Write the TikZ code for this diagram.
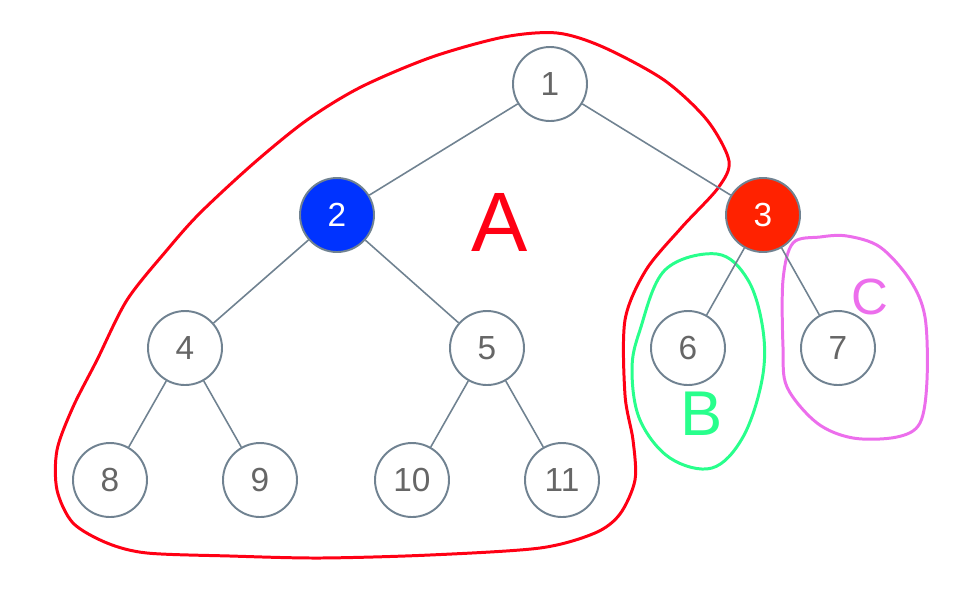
\documentclass[tikz,border=0pt]{standalone}
\usepackage{fontspec}
\setmainfont{Liberation Sans}
\usepackage{tikz}
\usetikzlibrary{positioning}
\definecolor{edgecolor}{RGB}{112,130,145}
\definecolor{numcolor}{RGB}{102,102,102}
\definecolor{bluecolor}{RGB}{0,51,255}
\definecolor{redcolor}{RGB}{255,34,0}
\definecolor{inkred}{RGB}{255,0,20}
\definecolor{inkgreen}{RGB}{40,255,140}
\definecolor{inkpink}{RGB}{236,110,236}
\tikzset{
  treenode/.style={circle, draw=edgecolor, line width=1.1pt, fill=white,
                   minimum size=1.48cm, inner sep=0pt, text=numcolor,
                   font=\fontsize{19}{19}\selectfont},
  marked/.style={treenode, fill=#1, text=white},
  treeedge/.style={draw=edgecolor, line width=0.9pt},
  ink/.style={draw=#1, line width=1.7pt, line join=round, line cap=round},
  inklabel/.style={text=#1, inner sep=0pt},
}

\begin{document}
\begin{tikzpicture}
  \useasboundingbox (0,0) rectangle (19.16,-11.88);

  % Hand-drawn groups
  \draw[ink=inkred] plot[smooth cycle, tension=0.5] coordinates {
    (3.34,-5.0) (2.54,-6.0) (1.94,-7.2) (1.46,-8.14) (1.14,-9.0)
    (1.14,-9.8) (1.46,-10.46) (2.14,-10.86) (2.94,-11.06) (4.6,-11.12)
    (6.4,-11.16) (8.6,-11.1) (10.8,-10.96) (11.9,-10.66) (12.4,-10.28)
    (12.7,-9.6) (12.66,-8.8) (12.5,-7.9) (12.5,-6.4) (12.92,-5.4)
    (13.64,-4.54) (14.36,-3.76) (14.58,-3.22) (14.14,-2.4) (13.28,-1.6)
    (12.06,-0.94) (11.14,-0.66) (10.08,-0.74) (8.64,-1.14) (7.22,-1.74)
    (6.14,-2.4) (5.08,-3.26) (4.0,-4.26)};
  \draw[ink=inkgreen] plot[smooth cycle, tension=0.6] coordinates {
    (14.34,-5.08) (14.96,-5.6) (15.26,-6.6) (15.24,-7.6) (14.86,-8.74)
    (14.24,-9.36) (13.4,-9.16) (12.8,-8.4) (12.64,-7.4) (12.8,-6.6)
    (13.3,-5.4)};
  \draw[ink=inkpink] plot[smooth cycle, tension=0.55] coordinates {
    (15.66,-5.6) (15.86,-4.86) (16.4,-4.74) (16.94,-4.72) (17.6,-4.94)
    (18.2,-5.6) (18.5,-6.34) (18.54,-7.6) (18.4,-8.46) (17.94,-8.74)
    (17.06,-8.76) (16.34,-8.46) (15.74,-7.74) (15.66,-6.94)};

  \node[inklabel=inkred, font=\fontsize{48}{48}\selectfont] (lblA) at (10.0,-4.44) {A};
  \node[inklabel=inkgreen, font=\fontsize{36}{36}\selectfont] (lblB) at (14.04,-8.28) {B};
  \node[inklabel=inkpink, font=\fontsize{29}{29}\selectfont] (lblC) at (17.4,-5.94) {C};

  % Tree nodes
  \node[treenode] (n1) at (11.0,-1.68) {1};
  \node[marked=bluecolor] (n2) at (6.74,-4.3) {2};
  \node[marked=redcolor] (n3) at (15.26,-4.3) {3};
  \node[treenode] (n4) at (3.7,-6.96) {4};
  \node[treenode] (n5) at (9.74,-6.96) {5};
  \node[treenode] (n6) at (13.76,-6.96) {6};
  \node[treenode] (n7) at (16.76,-6.96) {7};
  \node[treenode] (n8) at (2.2,-9.6) {8};
  \node[treenode] (n9) at (5.2,-9.6) {9};
  \node[treenode] (n10) at (8.24,-9.6) {10};
  \node[treenode] (n11) at (11.24,-9.6) {11};

  % Edges
  \draw[treeedge] (n1) -- (n2);
  \draw[treeedge] (n1) -- (n3);
  \draw[treeedge] (n2) -- (n4);
  \draw[treeedge] (n2) -- (n5);
  \draw[treeedge] (n3) -- (n6);
  \draw[treeedge] (n3) -- (n7);
  \draw[treeedge] (n4) -- (n8);
  \draw[treeedge] (n4) -- (n9);
  \draw[treeedge] (n5) -- (n10);
  \draw[treeedge] (n5) -- (n11);

\end{tikzpicture}
\end{document}
